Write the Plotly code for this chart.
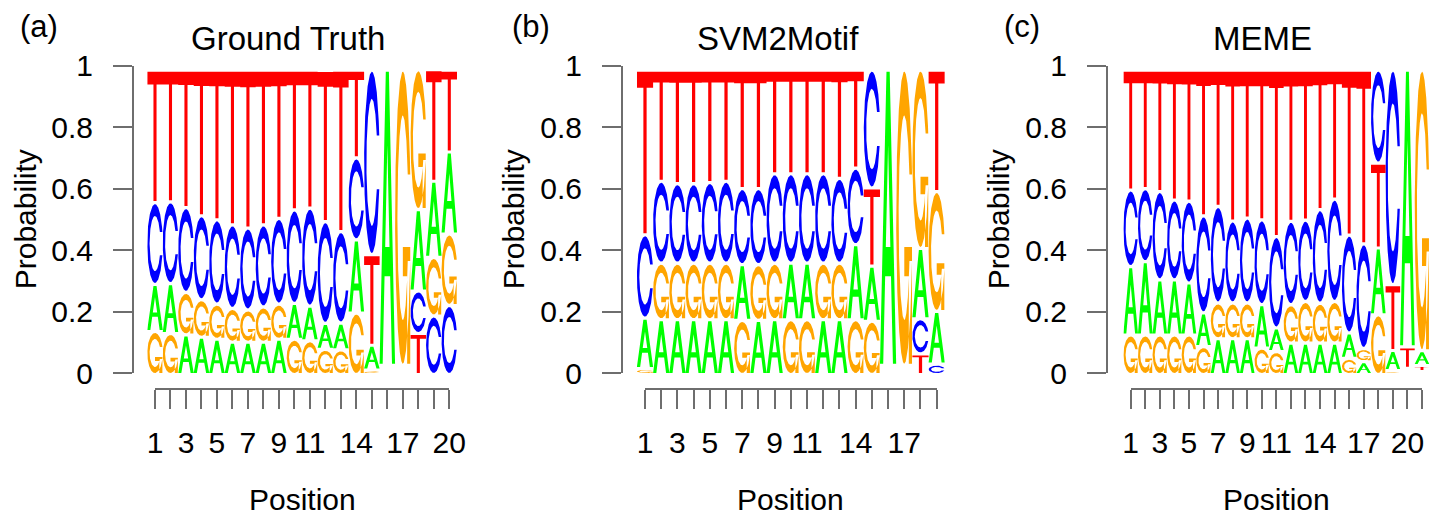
import numpy as np
import plotly.graph_objects as go

# ---------------- data (probabilities) ----------------
bases = ["A", "C", "G", "T"]

# (a) Ground Truth, 20 positions
gt_A = [.15, .16, .125, .117, .11, .10, .10, .10, .11, .112, .108, .078, .081, .24, .074, 1.0, 0, .268, .25, .27]
gt_C = [.27, .27, .28, .277, .278, .276, .27, .271, .283, .31, .325, .338, .303, .27, .621, 0, 0, .135, .19, .226]
gt_G = [.137, .13, .135, .118, .11, .105, .10, .11, .11, .11, .105, .076, .074, .20, .005, 0, 1.0, .468, .19, .234]
gt_T = [.443, .44, .46, .488, .502, .519, .53, .519, .497, .468, .462, .507, .542, .29, .30, 0, 0, .13, .371, .27]

# (b) SVM2Motif, 19 positions
svm_A = [.162, .177, .177, .177, .177, .177, .18, .175, .177, .183, .183, .177, .177, .246, .178, 1.0, 0, .23, .17]
svm_C = [.275, .27, .262, .262, .266, .27, .25, .25, .296, .296, .296, .296, .28, .252, .393, 0, 0, .11, .025]
svm_G = [.01, .183, .183, .183, .183, .183, .175, .18, .183, .177, .177, .183, .183, .177, .172, 0, 1.0, .60, .40]
svm_T = [.553, .37, .378, .378, .374, .37, .395, .395, .344, .344, .344, .344, .36, .325, .257, 0, 0, .06, .405]

# (c) MEME, 21 positions
meme_A = [.223, .24, .178, .178, .167, .105, .112, .112, .112, .138, .07, .097, .097, .097, .097, .076, .033, .218, .058, .937, .04]
meme_C = [.252, .24, .292, .263, .27, .322, .32, .27, .28, .28, .303, .275, .268, .31, .34, .325, .348, .308, .724, 0, 0]
meme_G = [.125, .125, .125, .125, .125, .085, .112, .112, .112, .08, .068, .121, .132, .126, .132, .045, .035, .194, .003, 0, .95]
meme_T = [.40, .395, .405, .434, .438, .488, .456, .506, .496, .502, .559, .507, .503, .467, .431, .554, .584, .28, .215, .063, .01]

titles = ["Ground Truth", "SVM2Motif", "MEME"]
tags = ["(a)", "(b)", "(c)"]
tick_labels_a = ["1", "", "3", "", "5", "", "7", "", "9", "", "11", "", "", "14", "", "", "17", "", "", "20"]
tick_labels_b = ["1", "", "3", "", "5", "", "7", "", "9", "", "11", "", "", "14", "", "", "17", "", ""]
tick_labels_c = ["1", "", "3", "", "5", "", "7", "", "9", "", "11", "", "", "14", "", "", "17", "", "", "20", ""]
y_ticks = [0, 0.2, 0.4, 0.6, 0.8, 1]
y_tick_text = ["0", "0.2", "0.4", "0.6", "0.8", "1"]

panels = [
    dict(A=gt_A, C=gt_C, G=gt_G, T=gt_T, ticks=tick_labels_a),
    dict(A=svm_A, C=svm_C, G=svm_G, T=svm_T, ticks=tick_labels_b),
    dict(A=meme_A, C=meme_C, G=meme_G, T=meme_T, ticks=tick_labels_c),
]

# ---------------- glyph shapes (seqLogo-style polygons, unit box) ----------------
def ring_outline():
    a1 = np.linspace(0.3 + np.pi / 2, np.pi, 100)
    a2 = np.linspace(np.pi, 1.5 * np.pi, 100)
    xl1 = 0.5 + 0.5 * np.sin(a1); yl1 = 0.5 + 0.5 * np.cos(a1)
    xl2 = 0.5 + 0.5 * np.sin(a2); yl2 = 0.5 + 0.5 * np.cos(a2)
    xl = np.concatenate([xl1, xl2]); yl = np.concatenate([yl1, yl2])
    x = np.concatenate([xl, xl[::-1]]); y = np.concatenate([yl, 1 - yl[::-1]])
    xi1 = 0.5 + 0.35 * np.sin(a1); yi1 = 0.5 + 0.35 * np.cos(a1)
    keep = yi1 <= yl1.max()
    xi1 = xi1[keep]; yi1 = yi1[keep].copy(); yi1[0] = yl1.max()
    xi2 = 0.5 + 0.35 * np.sin(a2); yi2 = 0.5 + 0.35 * np.cos(a2)
    xi = np.concatenate([xi1, xi2]); yi = np.concatenate([yi1, yi2])
    x1 = np.concatenate([xi, xi[::-1]]); y1 = np.concatenate([yi, 1 - yi[::-1]])
    x = np.concatenate([x, x1[::-1]]); y = np.concatenate([y, y1[::-1]])
    return x, y, float(xl1.max())

RX, RY, R1 = ring_outline()
GLYPHS = {
    "A": [(np.array([0, 4, 6, 10, 8, 6.8, 3.2, 2, 0]) / 10, np.array([0, 10, 10, 0, 0, 3, 3, 0, 0]) / 10, "A")],
    "T": [(np.array([0, 10, 10, 6, 6, 4, 4, 0, 0]) / 10, np.array([10, 10, 9, 9, 0, 0, 9, 9, 10]) / 10, "T")],
    "C": [(RX, RY, "C")],
    "G": [(RX, RY, "G"),
          (np.array([R1, .5, .5, R1 - .2, R1 - .2, R1, R1]), np.array([.4, .4, .3, .3, 0, 0, .4]), "G")],
}
HOLE = (np.array([3.6, 5, 6.4, 3.6]) / 10, np.array([4, 7.5, 4, 4]) / 10)

COLORS = {"A": "#00FF00", "C": "#0000FF", "G": "#FFA500", "T": "#FF0000", "hole": "#FFFFFF"}

# ---------------- layout geometry (page pixels) ----------------
W, H = 1440, 516
PAGE_OFF = 8                        # the page places the figure 8 px in from the corner
Y0_PX, Y1_PX = 373.0, 65.5          # y = 0 and y = 1
XAXIS_LINE_PX = 389.0
TICKLEN = 19
yaxis_px = [133, 622, 1107]
first_tick_px = [155.0, 645.0, 1130.7]
last_tick_px = [449.3, 936.7, 1422.0]
title_px = [288, 778, 1262]
tag_px = [39, 531, 1022]
ylab_px = [25, 513, 998]

def fx(px):
    return (px - PAGE_OFF) / W

def fy(py):
    return 1 - (py - PAGE_OFF) / H

fig = go.Figure()
layout = dict(
    width=W, height=H, margin=dict(l=0, r=0, t=0, b=0, pad=0), autosize=False,
    paper_bgcolor="white", plot_bgcolor="rgba(0,0,0,0)", showlegend=False,
    font=dict(family="Liberation Sans, Arial, sans-serif", size=30, color="black"),
    annotations=[],
)
AX_COLOR = "#6e6e6e"
FONT = "Liberation Sans, Arial, sans-serif"

for i, pan in enumerate(panels):
    n = len(pan["A"])
    xl_name = "x" if i == 0 else f"x{2 * i + 1}"
    xt_name = f"x{2 * i + 2}"
    y_name = "y" if i == 0 else f"y{i + 1}"
    xl_key = "xaxis" if i == 0 else f"xaxis{2 * i + 1}"
    xt_key = f"xaxis{2 * i + 2}"
    y_key = "yaxis" if i == 0 else f"yaxis{i + 1}"

    sp = (last_tick_px[i] - first_tick_px[i]) / (n - 1)
    dom_l = first_tick_px[i] - 0.5 * sp
    dom_r = last_tick_px[i] + 0.5 * sp

    # build letter polygons
    polys = {k: ([], []) for k in COLORS}
    for j in range(n):
        probs = [pan[b][j] for b in bases]
        hts = [0.95 * p for p in probs]
        order = sorted(range(4), key=lambda k: hts[k])
        ypos = 0.0
        xpos = j + 0.5
        for k in order:
            ht = hts[k]
            b = bases[k]
            if ht > 0:
                for gx, gy, col in GLYPHS[b]:
                    polys[col][0].extend([float(v) for v in (xpos + gx)] + [None])
                    polys[col][1].extend([float(v) for v in (ypos + ht * gy)] + [None])
                if b == "A":
                    polys["hole"][0].extend([float(v) for v in (xpos + HOLE[0])] + [None])
                    polys["hole"][1].extend([float(v) for v in (ypos + ht * HOLE[1])] + [None])
            ypos += ht + 0.01

    for col in ["A", "C", "G", "T", "hole"]:
        xs, ys = polys[col]
        if not xs:
            continue
        fig.add_trace(go.Scatter(
            x=xs, y=ys, mode="lines", fill="toself", fillcolor=COLORS[col],
            line=dict(width=0, color=COLORS[col]), hoverinfo="skip",
            xaxis=xl_name, yaxis=y_name,
        ))
    # tick axis carrier (no visible mark)
    fig.add_trace(go.Scatter(x=[None], y=[None], mode="markers", hoverinfo="skip",
                             xaxis=xt_name, yaxis=y_name))

    layout[xl_key] = dict(domain=[fx(dom_l), fx(dom_r)], range=[0.5, n + 0.5], type="linear",
                          anchor=y_name, visible=False, showgrid=False, zeroline=False,
                          automargin=False, fixedrange=True)
    layout[xt_key] = dict(domain=[fx(first_tick_px[i]), fx(last_tick_px[i])], range=[1, n],
                          type="linear", anchor="free", position=fy(XAXIS_LINE_PX), showline=True,
                          linecolor=AX_COLOR, linewidth=2, ticks="outside", ticklen=TICKLEN,
                          tickwidth=2, tickcolor=AX_COLOR, tickvals=list(range(1, n + 1)),
                          ticktext=pan["ticks"], tickangle=0, showgrid=False, zeroline=False,
                          tickfont=dict(size=30, family=FONT, color="black"),
                          ticklabelstandoff=8, automargin=False, fixedrange=True)
    layout[y_key] = dict(domain=[fy(Y0_PX), fy(Y1_PX)], range=[0, 1], type="linear", anchor="free",
                         position=fx(yaxis_px[i]), showline=True, linecolor=AX_COLOR,
                         linewidth=2, ticks="outside", ticklen=TICKLEN, tickwidth=2,
                         tickcolor=AX_COLOR, tickvals=y_ticks, ticktext=y_tick_text,
                         showgrid=False, zeroline=False,
                         tickfont=dict(size=30, family=FONT, color="black"),
                         ticklabelstandoff=14, automargin=False, fixedrange=True)

    tick_center = 0.5 * (first_tick_px[i] + last_tick_px[i])
    layout["annotations"] += [
        dict(text=titles[i], x=fx(title_px[i]), y=fy(39), xref="paper", yref="paper",
             showarrow=False, xanchor="center", yanchor="middle", font=dict(size=33, family=FONT)),
        dict(text=tags[i], x=fx(tag_px[i]), y=fy(27), xref="paper", yref="paper",
             showarrow=False, xanchor="center", yanchor="middle", font=dict(size=31, family=FONT)),
        dict(text="Probability", x=fx(ylab_px[i]), y=fy(0.5 * (Y0_PX + Y1_PX)), xref="paper",
             yref="paper", showarrow=False, textangle=-90, xanchor="center", yanchor="middle",
             font=dict(size=30, family=FONT)),
        dict(text="Position", x=fx(tick_center), y=fy(499), xref="paper", yref="paper",
             showarrow=False, xanchor="center", yanchor="middle", font=dict(size=30, family=FONT)),
    ]

fig.update_layout(**layout)
fig.write_html("out.html")
